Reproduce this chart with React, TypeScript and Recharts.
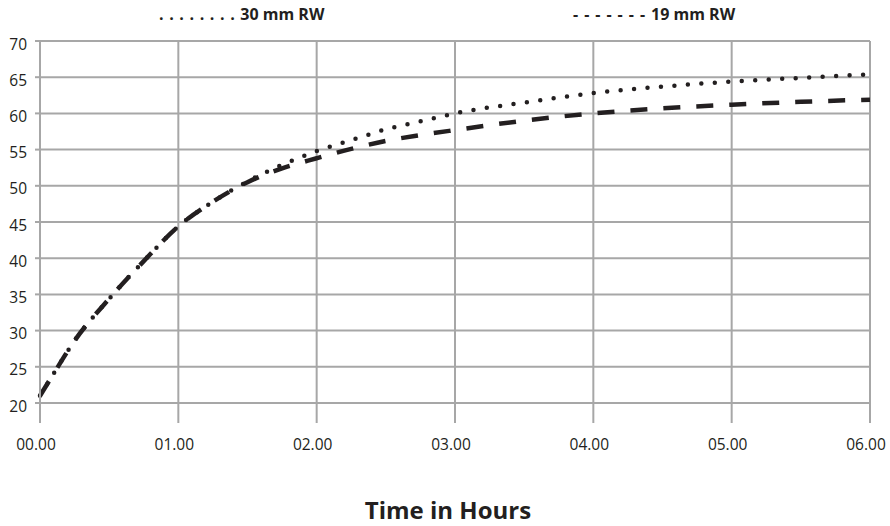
import { LineChart, Line, XAxis, YAxis, CartesianGrid } from "recharts";

const hours = [0, 0.1, 0.25, 0.5, 0.75, 1, 1.25, 1.5, 1.75, 2, 2.25, 2.5, 2.75, 3, 3.5, 4, 4.5, 5, 5.5, 6];
const rw30 = [21, 24.1, 28.6, 34.4, 39.6, 44.4, 47.8, 50.6, 52.9, 54.8, 56.3, 57.8, 58.9, 60.0, 61.5, 62.8, 63.7, 64.4, 64.9, 65.4];
const rw19 = [21, 24.1, 28.6, 34.4, 39.6, 44.4, 47.8, 50.5, 52.4, 53.8, 55.1, 56.2, 57.0, 57.7, 59.0, 60.0, 60.7, 61.2, 61.6, 61.9];

const xTicks = [0, 1, 2, 3, 4, 5, 6];
const yTicks = [20, 25, 30, 35, 40, 45, 50, 55, 60, 65, 70];

const legendMarks30 = "........";
const legendMarks19 = "-------";
const legendNames = ["30 mm RW", "19 mm RW"];
const axisTitle = "Time in Hours";

const data = hours.map((h, i) => ({ h, rw30: rw30[i], rw19: rw19[i] }));

const GRID = "#a7a7a7";
const INK = "#231f20";
const FONT = "'Open Sans', sans-serif";

const legendStyle = {
  position: "absolute" as const,
  top: 3,
  fontSize: 16,
  fontWeight: 700,
  color: INK,
  whiteSpace: "pre" as const,
};

export default function App() {
  return (
    <div
      style={{
        position: "absolute",
        left: 0,
        top: 0,
        width: 890,
        height: 526,
        background: "#fff",
        fontFamily: FONT,
      }}
    >
      <div style={{ ...legendStyle, left: 159 }}>
        <span style={{ letterSpacing: 5.6 }}>{legendMarks30}</span>
        {legendNames[0]}
      </div>
      <div style={{ ...legendStyle, left: 573 }}>
        <span style={{ letterSpacing: 6 }}>{legendMarks19}</span>
        {legendNames[1]}
      </div>

      <LineChart
        width={890}
        height={526}
        data={data}
        margin={{ top: 41, right: 20, bottom: 0, left: 0 }}
      >
        <CartesianGrid stroke={GRID} strokeWidth={2} />
        <XAxis
          dataKey="h"
          type="number"
          domain={[0, 6]}
          ticks={xTicks}
          tickFormatter={(v: number) => `0${v}.00`}
          height={123}
          tickSize={20}
          tickMargin={16}
          axisLine={{ stroke: GRID, strokeWidth: 2 }}
          tickLine={{ stroke: GRID, strokeWidth: 2 }}
          tick={{ fill: INK, fontSize: 15.5, fontFamily: FONT, dx: -4 }}
        />
        <YAxis
          type="number"
          domain={[20, 70]}
          ticks={yTicks}
          width={40}
          tickSize={5}
          tickMargin={8}
          axisLine={{ stroke: GRID, strokeWidth: 2 }}
          tickLine={{ stroke: GRID, strokeWidth: 2 }}
          tick={{ fill: INK, fontSize: 15.5, fontFamily: FONT, dy: 3 }}
        />
        <Line
          dataKey="rw30"
          type="monotone"
          stroke={INK}
          strokeWidth={4.5}
          strokeDasharray="0 13.5"
          strokeLinecap="round"
          dot={false}
          isAnimationActive={false}
        />
        <Line
          dataKey="rw19"
          type="monotone"
          stroke={INK}
          strokeWidth={4.5}
          strokeDasharray="17 16"
          dot={false}
          isAnimationActive={false}
        />
      </LineChart>

      <div
        style={{
          position: "absolute",
          top: 493,
          left: 0,
          width: 896,
          textAlign: "center",
          fontSize: 24,
          fontWeight: 700,
          color: INK,
        }}
      >
        {axisTitle}
      </div>
    </div>
  );
}
